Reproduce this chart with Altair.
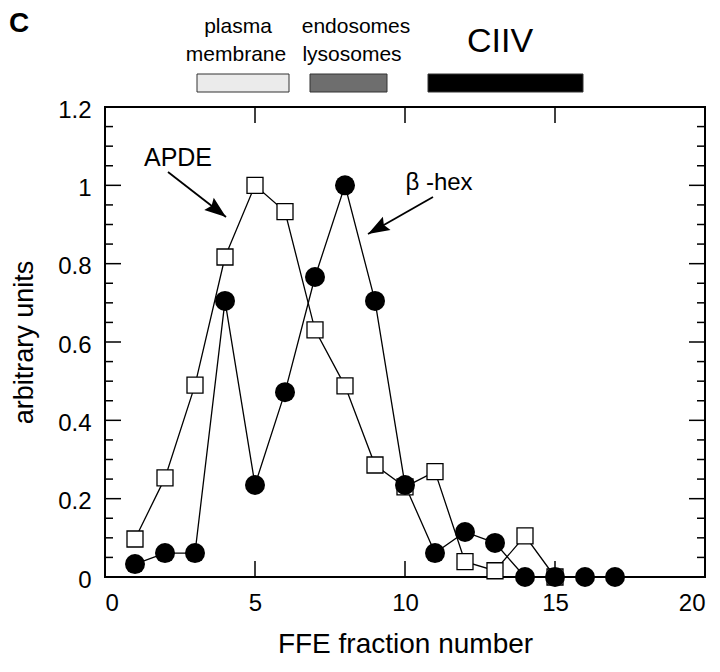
import math
import altair as alt
import pandas as pd

# ---------------- data ----------------
apde_fraction = list(range(1, 16))
apde_value = [0.097, 0.253, 0.49, 0.817, 1.0, 0.933, 0.631, 0.488, 0.286, 0.23,
              0.269, 0.039, 0.016, 0.105, 0.0]
hex_fraction = list(range(1, 18))
hex_value = [0.033, 0.061, 0.061, 0.705, 0.235, 0.472, 0.766, 1.0, 0.705, 0.235,
             0.061, 0.115, 0.087, 0.0, 0.0, 0.0, 0.0]

x_label_values = [0, 5, 10, 15, 20]
y_label_values = [0, 0.2, 0.4, 0.6, 0.8, 1.0, 1.2]
x_tick_values = [5, 10, 15]
y_major_ticks = [0.2, 0.4, 0.6, 0.8, 1.0]
y_minor_ticks = [0.05, 0.1, 0.15, 0.25, 0.3, 0.35, 0.45, 0.5, 0.55, 0.65, 0.7,
                 0.75, 0.85, 0.9, 0.95, 1.05, 1.1, 1.15]

band_labels = ["plasma membrane", "endosomes lysosomes", "CIIV"]

FONT = "Liberation Sans"
W, H = 600, 470

apde_df = pd.DataFrame({"fraction": apde_fraction, "value": apde_value})
hex_df = pd.DataFrame({"fraction": hex_fraction, "value": hex_value})

xs = alt.Scale(domain=[0, 20], nice=False, zero=False)
ys = alt.Scale(domain=[0, 1.2], nice=False, zero=False)

X = alt.X("fraction:Q", scale=xs,
          axis=alt.Axis(values=x_label_values, format="d", title="FFE fraction number",
                        labelFontSize=24, labelPadding=14, titleFontSize=28,
                        titleFontWeight="normal", titleBaseline="alphabetic", titleY=75,
                        labelFont=FONT, titleFont=FONT, labelColor="black", titleColor="black"))
Y = alt.Y("value:Q", scale=ys,
          axis=alt.Axis(values=y_label_values, format="~g", title="arbitrary units",
                        labelFontSize=24, labelPadding=14, labelOffset=3, titleFontSize=27,
                        titleFontWeight="normal", titleBaseline="alphabetic", titleX=-73,
                        labelFont=FONT, titleFont=FONT, labelColor="black", titleColor="black"))

apde_line = alt.Chart(apde_df).mark_line(color="black", strokeWidth=1.3).encode(x=X, y=Y)
hex_line = alt.Chart(hex_df).mark_line(color="black", strokeWidth=1.3).encode(
    x=alt.X("fraction:Q", scale=xs), y=alt.Y("value:Q", scale=ys))
apde_pts = alt.Chart(apde_df).mark_point(shape="square", size=256, filled=True, fill="white",
                                         stroke="black", strokeWidth=1.3, opacity=1).encode(
    x=alt.X("fraction:Q", scale=xs), y=alt.Y("value:Q", scale=ys))
hex_pts = alt.Chart(hex_df).mark_point(shape="circle", size=400, filled=True, color="black",
                                       opacity=1).encode(
    x=alt.X("fraction:Q", scale=xs), y=alt.Y("value:Q", scale=ys))

# ---------------- inward ticks ----------------
def hticks(vals, x0, x1):
    return alt.Chart(pd.DataFrame({"v": vals})).mark_rule(color="black", strokeWidth=1.5).encode(
        y=alt.Y("v:Q", scale=ys), x=alt.value(x0), x2=alt.value(x1))

def vticks(vals, y0, y1):
    return alt.Chart(pd.DataFrame({"v": vals})).mark_rule(color="black", strokeWidth=1.5).encode(
        x=alt.X("v:Q", scale=xs), y=alt.value(y0), y2=alt.value(y1))

ticks = [
    hticks(y_major_ticks, 0, 16), hticks(y_minor_ticks, 0, 8),
    hticks(y_major_ticks, W - 16, W), hticks(y_minor_ticks, W - 8, W),
    vticks(x_tick_values, H - 16, H), vticks(x_tick_values, 0, 16),
]

# ---------------- annotations ----------------
one = pd.DataFrame({"k": [0]})

def text(t, x, y, size, weight="normal"):
    return alt.Chart(pd.DataFrame({"t": [t]})).mark_text(
        font=FONT, fontSize=size, fontWeight=weight, align="center", baseline="alphabetic",
        color="black").encode(x=alt.value(x), y=alt.value(y), text="t:N")

def box(x0, x1, fill):
    return alt.Chart(one).mark_rect(fill=fill, stroke="#333333", strokeWidth=1).encode(
        x=alt.value(x0), x2=alt.value(x1), y=alt.value(-33), y2=alt.value(-15))

ARROW = "M0,0L0.36,1L0,0.85L-0.36,1Z"

def arrow(x0, y0, x1, y1):
    ang = math.degrees(math.atan2(x1 - x0, -(y1 - y0))) % 360
    shaft = alt.Chart(one).mark_rule(color="black", strokeWidth=1.8).encode(
        x=alt.value(x0), y=alt.value(y0), x2=alt.value(x1), y2=alt.value(y1))
    head = alt.Chart(one).mark_point(shape=ARROW, filled=True, color="black", opacity=1,
                                     size=1850, angle=ang).encode(x=alt.value(x1), y=alt.value(y1))
    return [shaft, head]

pm, el, ciiv = band_labels
annotations = [
    text("C", -86, -75, 28, "bold"),
    text(pm.split()[0], 133, -74, 21), text(pm.split()[1], 131, -46, 21),
    text(el.split()[0], 251, -74, 21), text(el.split()[1], 247, -46, 21),
    text(ciiv, 395, -55, 34),
    box(92, 184, "#ebebeb"), box(205, 282, "#6e6e6e"), box(323, 478, "black"),
    text("APDE", 73, 59, 25),
    text("β -hex", 334, 83, 24),
] + arrow(63, 65, 121, 110) + arrow(328, 90, 263, 127)

chart = alt.layer(
    apde_line, hex_line, *ticks, apde_pts, hex_pts, *annotations
).properties(
    width=W, height=H,
    autosize=alt.AutoSizeParams(type="none"),
    padding={"left": 97, "top": 99, "right": 7, "bottom": 87},
).configure_view(
    stroke="black", strokeWidth=2
).configure_axis(
    domain=False, grid=False, ticks=False, tickSize=0
)

chart.save("out.html", embed_options={"renderer": "svg", "actions": False})
